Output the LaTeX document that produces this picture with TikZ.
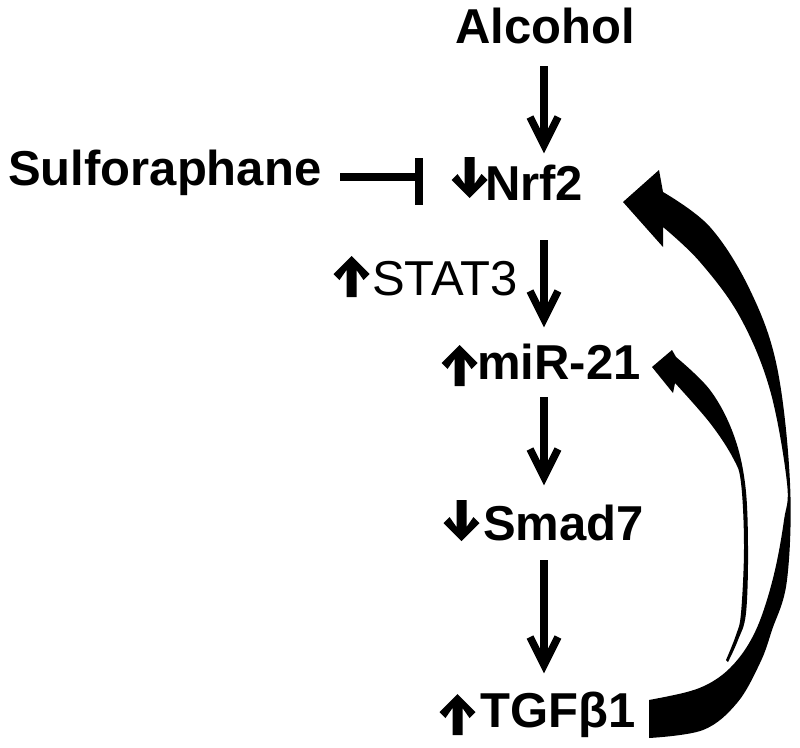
\documentclass[tikz,border=0pt]{standalone}
\usepackage{fontspec}
\setmainfont{Liberation Sans}
\begin{document}
\begin{tikzpicture}[x=1pt,y=-1pt,
  lbl/.style={anchor=base west,inner sep=0pt,font=\fontsize{49}{52}\selectfont\bfseries},
  lblr/.style={anchor=base west,inner sep=0pt,font=\fontsize{49}{52}\selectfont},
  conn/.style={line width=7.5pt,line cap=butt,line join=miter},
  inhib/.style={line width=8.5pt,line cap=butt},
  dnarr/.pic={\fill (-5,0) -- (5,0) -- (5,27) -- (12,17) -- (18,23) -- (0,41) -- (-18,23) -- (-12,17) -- (-5,27) -- cycle;},
  uparr/.pic={\fill (0,0) -- (18,18) -- (12,24) -- (5,14) -- (5,41) -- (-5,41) -- (-5,14) -- (-12,24) -- (-18,18) -- cycle;}
]
\useasboundingbox (0,0) rectangle (800,747);
\fill[white] (0,0) rectangle (800,747);

% text nodes
\node[lbl] (alcohol) at (455,43) {Alcohol};
\node[lbl] (sulf) at (8,185) {Sulforaphane};
\node[lbl] (nrf2) at (485,200) {Nrf2};
\node[lblr] (stat3) at (372,295) {STAT3};
\node[lbl] (mir21) at (477,379) {miR-21};
\node[lbl] (smad7) at (483,540) {Smad7};
\node[lbl] (tgfb1) at (480,727) {TGF\char"03B2 1};

% bold up/down glyph arrows
\pic at (469.5,157) {dnarr};
\pic at (351.5,256) {uparr};
\pic at (459.5,345) {uparr};
\pic at (461.5,500) {dnarr};
\pic at (457.5,694) {uparr};

% vertical connectors
\coordinate (a1s) at (544,66);  \coordinate (a1e) at (544,145);
\coordinate (a2s) at (544,240); \coordinate (a2e) at (544,319);
\coordinate (a3s) at (544,397); \coordinate (a3e) at (544,477);
\coordinate (a4s) at (544,560); \coordinate (a4e) at (544,665);
\foreach \s/\e in {a1s/a1e,a2s/a2e,a3s/a3e,a4s/a4e}{
  \draw[conn] (\s) -- (\e);
  \draw[conn] (\e) +(-14,-28) -- (\e) -- +(14,-28);
}

% inhibition
\coordinate (ih1) at (340,177);
\coordinate (ih2) at (419,177);
\draw[inhib] (ih1) -- (ih2);
\draw[inhib] (419,158) -- (419,205);

% big curved arrow TGFb1 -> Nrf2
\fill (623,202) -- (659,170) --
  plot[smooth,tension=0.6] coordinates {(663,192) (710,227) (750,290) (777,367) (790,483) (787,580) (772,630) (760,663) (737,703) (703,730) (649,738)}
  -- plot[smooth,tension=0.6] coordinates {(649,700) (687,692) (710,683) (730,668) (748,645) (762,615) (775,570) (784,520) (787,483) (770,390) (740,317) (700,262) (663,227)}
  -- (663,247) -- cycle;

% small curved arrow TGFb1 -> miR-21
\fill (652,367) -- (672,350) --
  plot[smooth,tension=0.6] coordinates {(676,357) (710,390) (733,433) (745,483) (748,547) (746,613) (738,640) (728,662)}
  -- plot[smooth,tension=0.6] coordinates {(726,660) (736,635) (741,613) (744,547) (741,483) (733,458) (710,423) (675,383)}
  -- (673,393) -- cycle;
\end{tikzpicture}
\end{document}
